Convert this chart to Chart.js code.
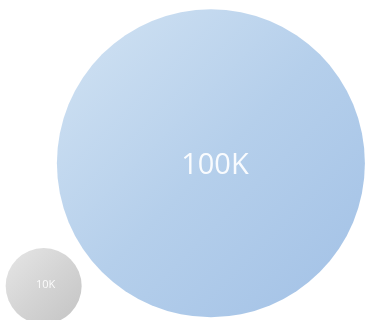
<!DOCTYPE html>
<html>
<head>
<meta charset="utf-8">
<script src="https://cdn.jsdelivr.net/npm/chart.js@4/dist/chart.umd.min.js"></script>
<style>
  html, body { margin: 0; padding: 0; background: #ffffff; }
  #wrap { width: 370px; height: 320px; }
</style>
</head>
<body>
<div id="wrap"><canvas id="myChart"></canvas></div>
<script>
// Two bubbles, sized by their value
const labels = ["100K", "10K"];
const values = [100000, 10000];
const xPos = [5.7, 1.18];
const yPos = [4.9, 1.06];

// radius scale: value -> pixels
const maxR = 154, minR = 38;
function radiusFor(v) {
  const hi = Math.max(...values), lo = Math.min(...values);
  return minR + (v - lo) / (hi - lo) * (maxR - minR);
}

const points = values.map((v, i) => ({ x: xPos[i], y: yPos[i], r: radiusFor(v), label: labels[i] }));

// gradient stops per bubble (light top-left, darker bottom-right)
const shades = [
  ["#d2e3f3", "#b5cfeb", "#a2c1e6"],
  ["#e6e6e6", "#d4d4d4", "#c4c4c4"]
];

function bubbleFill(context) {
  const chart = context.chart;
  const raw = context.raw;
  const s = shades[context.dataIndex] || shades[0];
  if (!raw || !chart.scales.x || !chart.scales.y) return s[1];
  const cx = chart.scales.x.getPixelForValue(raw.x);
  const cy = chart.scales.y.getPixelForValue(raw.y);
  const r = raw.r;
  if (!Number.isFinite(cx) || !Number.isFinite(cy)) return s[1];
  const g = chart.ctx.createLinearGradient(cx - r, cy - r, cx + r, cy + r);
  g.addColorStop(0, s[0]);
  g.addColorStop(0.5, s[1]);
  g.addColorStop(1, s[2]);
  return g;
}

// value labels in the middle of each bubble
const bubbleLabels = {
  id: 'bubbleLabels',
  afterDatasetsDraw(chart) {
    const ctx = chart.ctx;
    const meta = chart.getDatasetMeta(0);
    meta.data.forEach((el, i) => {
      const size = i === 0 ? 29 : 11;
      ctx.save();
      ctx.font = size + 'px "Open Sans", sans-serif';
      ctx.fillStyle = 'rgba(255,255,255,0.92)';
      ctx.textAlign = 'center';
      ctx.textBaseline = 'middle';
      ctx.fillText(labels[i], el.x + (i === 0 ? 4 : 2), el.y + (i === 0 ? 3 : -1));
      ctx.restore();
    });
  }
};

const ctx = document.getElementById('myChart').getContext('2d');
const chart = new Chart(ctx, {
  type: 'bubble',
  data: {
    datasets: [{
      data: points,
      backgroundColor: bubbleFill,
      borderWidth: 0,
      clip: false
    }]
  },
  options: {
    responsive: true,
    maintainAspectRatio: false,
    animation: false,
    events: [],
    layout: { padding: 0, autoPadding: false },
    scales: {
      x: { display: false, min: 0, max: 10 },
      y: { display: false, min: 0, max: 10 }
    },
    plugins: {
      legend: { display: false },
      tooltip: { enabled: false }
    }
  },
  plugins: [bubbleLabels]
});
chart.update();
</script>
</body>
</html>
